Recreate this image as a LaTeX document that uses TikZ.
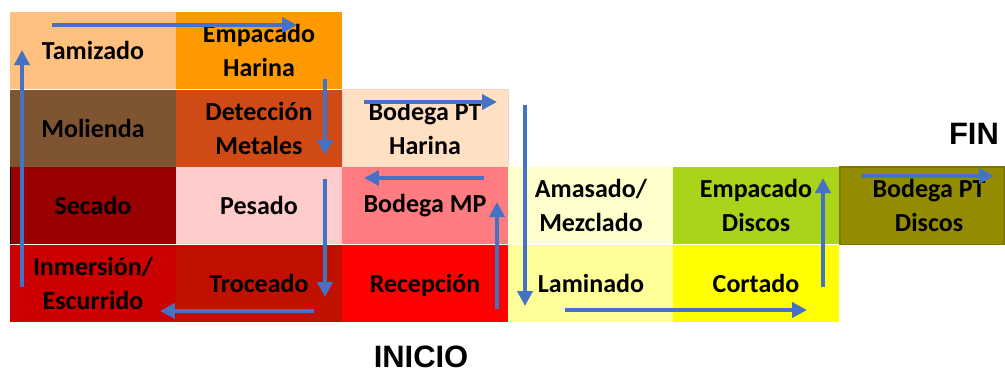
\documentclass[tikz,border=0pt]{standalone}
\usepackage{fontspec}
\setmainfont{Carlito}
\newfontfamily\titlefont{Liberation Sans}
\usetikzlibrary{arrows.meta}
\definecolor{tamiz}{HTML}{FFC080}
\definecolor{empharina}{HTML}{FF9900}
\definecolor{molienda}{HTML}{7F5430}
\definecolor{deteccion}{HTML}{CF4A14}
\definecolor{ptharina}{HTML}{FFE0C2}
\definecolor{secado}{HTML}{990000}
\definecolor{pesado}{HTML}{FFCCCC}
\definecolor{bodegamp}{HTML}{FF7C80}
\definecolor{inmersion}{HTML}{CC0000}
\definecolor{troceado}{HTML}{C01000}
\definecolor{recepcion}{HTML}{FF0000}
\definecolor{amasado}{HTML}{FFFFCC}
\definecolor{laminado}{HTML}{FFFF99}
\definecolor{empdiscos}{HTML}{A9D41A}
\definecolor{cortado}{HTML}{FFFF00}
\definecolor{ptdiscos}{HTML}{938C00}
\definecolor{flowblue}{HTML}{4472C4}
\tikzset{>={Triangle[length=3mm, width=3mm]}}
\tikzset{cell/.style={minimum width=3.32cm, minimum height=1.55cm,
    inner sep=0pt, outer sep=0pt, align=center,
    font=\fontsize{14.8}{19.3}\selectfont\bfseries},
  flow/.style={->, line width=2.2pt, draw=flowblue},
  title/.style={font=\titlefont\fontsize{17.6}{20}\selectfont\bfseries}}

\begin{document}
\begin{tikzpicture}[x=0.02cm, y=-0.02cm]
    \useasboundingbox (0,0) rectangle (1005,369);

    % harina, columnas 1-3
    \node[cell, fill=tamiz] (tam) at (93, 50.75) {Tamizado};
    \node[cell, fill=empharina] (emph) at (259, 50.75) {Empacado\\Harina};
    \node[cell, fill=molienda] (mol) at (93, 128.25) {Molienda};
    \node[cell, fill=deteccion] (det) at (259, 128.25) {Detección\\Metales};
    \node[cell, fill=ptharina, draw=pesado] (pth) at (425, 128.25) {Bodega PT\\Harina};
    \node[cell, fill=secado] (sec) at (93, 205.75) {Secado};
    \draw (sec.north west) -- (sec.south west);
    \node[cell, fill=pesado] (pes) at (259, 205.75) {Pesado};
    \node[cell, fill=bodegamp] (bmp) at (425, 205.75) {Bodega MP};
    \node[cell, fill=inmersion] (inm) at (93, 283.25) {Inmersión/\\Escurrido};
    \node[cell, fill=troceado] (tro) at (259, 283.25) {Troceado};
    \node[cell, fill=recepcion] (rec) at (425, 283.25) {\smash{Recepción}\vphantom{Troceado}};

    % discos, columnas 4-6
    \node[cell, fill=amasado] (ama) at (591, 205.75) {Amasado/\\Mezclado};
    \node[cell, fill=laminado] (lam) at (591, 283.25) {Laminado};
    \node[cell, fill=empdiscos] (empd) at (756, 205.75) {Empacado\\Discos};
    \node[cell, fill=cortado] (cor) at (756, 283.25) {Cortado};
    \node[cell, fill=ptdiscos, draw=ptdiscos!85!black, line width=1pt,
      minimum width=3.28cm] (ptd) at (922, 205.75) {\hspace*{8pt}Bodega PT\\\hspace*{8pt}Discos};

    \node[title] (fin) at (974, 134) {FIN};
    \node[title] (ini) at (421, 357) {INICIO};

    % flechas
    \coordinate (a1) at (52, 25);   \coordinate (b1) at (297, 25);
    \coordinate (a2) at (22, 287);  \coordinate (b2) at (22, 50);
    \coordinate (a3) at (325, 79);  \coordinate (b3) at (325, 155);
    \coordinate (a4) at (364, 102); \coordinate (b4) at (497, 102);
    \coordinate (a5) at (484, 178); \coordinate (b5) at (364, 178);
    \coordinate (a6) at (497, 309); \coordinate (b6) at (497, 202);
    \coordinate (a7) at (325, 179); \coordinate (b7) at (325, 297);
    \coordinate (a8) at (314, 311); \coordinate (b8) at (160, 311);
    \coordinate (a9) at (525, 105); \coordinate (b9) at (525, 306);
    \coordinate (a10) at (565, 310); \coordinate (b10) at (807, 310);
    \coordinate (a11) at (823, 287); \coordinate (b11) at (823, 178);
    \coordinate (a12) at (862, 176); \coordinate (b12) at (994, 176);

    \draw[flow] (a1) -- (b1);
    \draw[flow] (a2) -- (b2);
    \draw[flow] (a3) -- (b3);
    \draw[flow] (a4) -- (b4);
    \draw[flow] (a5) -- (b5);
    \draw[flow] (a6) -- (b6);
    \draw[flow] (a7) -- (b7);
    \draw[flow] (a8) -- (b8);
    \draw[flow] (a9) -- (b9);
    \draw[flow] (a10) -- (b10);
    \draw[flow] (a11) -- (b11);
    \draw[flow] (a12) -- (b12);
\end{tikzpicture}
\end{document}
